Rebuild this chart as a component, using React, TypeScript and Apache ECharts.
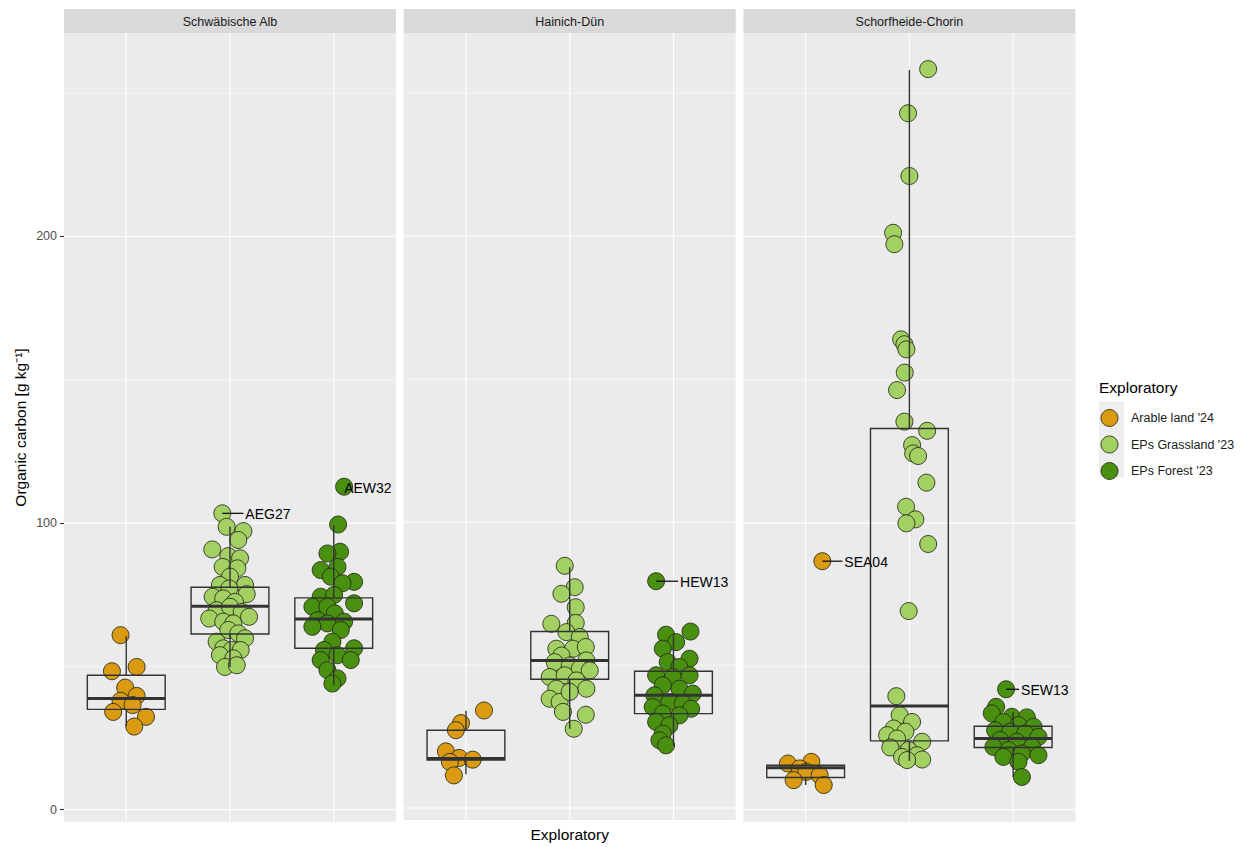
import React, { useEffect, useRef } from "react";
import * as echarts from "echarts";

// ---------- DATA ----------
const facetNames = ["Schwäbische Alb", "Hainich-Dün", "Schorfheide-Chorin"];
const groupNames = ["Arable land '24", "EPs Grassland '23", "EPs Forest '23"];
const groupColors = ["#DA9B12", "#A2D063", "#4A9010"];

const yMajorTicks = [0, 100, 200];
const yMinorTicks = [50, 150, 250];
const xCategoryPositions = [1, 2, 3];

// Schwäbische Alb
const albArableValues = [60.9, 48.3, 49.8, 42.6, 39.7, 38.0, 36.5, 34.1, 32.4, 29.0];
const albArableJitter = [-0.055, -0.138, 0.1, -0.01, 0.1, -0.055, 0.061, -0.126, 0.19, 0.077];
const albGrassValues = [103.4, 98.7, 97.2, 94.1, 90.8, 88.5, 87.7, 84.7, 84.2, 81.3, 78.4, 78.4, 77.2, 74.3, 75.2, 73.7, 72.5, 69.6, 70.8, 69.0, 67.3, 66.7, 65.6, 65.0, 62.7, 61.5, 58.6, 59.8, 56.3, 55.7, 55.7, 53.9, 52.8, 49.8, 50.4];
const albGrassJitter = [-0.074, -0.032, 0.129, 0.08, -0.171, -0.016, 0.097, -0.071, 0.071, 0, -0.097, 0.145, -0.007, -0.167, 0.161, -0.065, 0.048, -0.129, 0, 0.113, 0.184, -0.2, -0.065, 0.032, -0.016, 0.08, -0.129, 0.145, -0.065, 0.016, 0.103, -0.097, 0.032, -0.048, 0.065];
const albForestValues = [112.7, 99.5, 90.0, 89.4, 84.7, 83.6, 81.3, 79.5, 79.0, 74.3, 74.9, 72.0, 70.8, 70.8, 68.5, 66.1, 65.6, 65.0, 63.8, 62.7, 58.6, 56.3, 55.7, 53.9, 52.2, 52.2, 48.7, 45.8, 44.0];
const albForestJitter = [0.1, 0.042, 0.061, -0.061, 0.036, -0.126, -0.029, 0.196, 0.084, -0.126, 0.003, 0.196, -0.206, -0.061, 0.01, -0.157, 0.1, -0.061, -0.206, 0.068, -0.013, 0.196, -0.094, 0.036, -0.126, 0.164, -0.061, 0.036, -0.013];

// Hainich-Dün
const haiArableValues = [34.1, 29.7, 27.2, 19.8, 17.5, 16.9, 16.1, 11.4];
const haiArableJitter = [0.174, -0.048, -0.097, -0.193, -0.065, 0.065, -0.155, -0.116];
const haiGrassValues = [84.7, 77.2, 74.9, 70.2, 64.4, 64.7, 61.5, 59.8, 55.7, 55.7, 56.3, 53.3, 51.6, 51.0, 49.8, 48.7, 48.1, 45.8, 46.4, 44.6, 41.7, 41.7, 38.2, 37.1, 40.6, 33.6, 32.6, 27.7];
const haiGrassJitter = [-0.048, 0.048, -0.08, 0.058, -0.177, 0.058, -0.032, 0.097, -0.129, 0.032, 0.155, -0.08, 0.161, -0.145, 0, 0.097, 0.193, -0.193, -0.048, 0.065, -0.129, 0.161, -0.193, -0.097, 0, -0.065, 0.155, 0.039];
const haiForestValues = [79.3, 61.7, 60.6, 58.0, 55.7, 52.2, 51.0, 49.3, 46.4, 45.8, 46.4, 42.9, 41.7, 40.0, 39.4, 37.1, 36.5, 35.3, 34.7, 33.0, 32.4, 30.1, 28.9, 26.0, 23.7, 21.9];
const haiForestJitter = [-0.167, 0.164, -0.071, 0.026, -0.103, 0.155, -0.055, 0.058, -0.167, -0.007, 0.155, -0.103, 0.058, 0.186, -0.184, -0.039, 0.09, -0.2, 0.171, -0.103, 0.058, -0.167, -0.039, -0.103, -0.135, -0.071];

// Schorfheide-Chorin
const schArableValues = [86.7, 16.1, 16.7, 14.4, 13.2, 12.0, 10.3, 8.6];
const schArableJitter = [0.161, -0.171, 0.055, -0.058, 0.007, 0.135, -0.116, 0.174];
const schGrassValues = [258.4, 243.0, 221.1, 201.3, 197.3, 164.1, 162.4, 160.6, 152.5, 146.4, 135.4, 132.2, 127.2, 124.3, 123.4, 114.1, 105.7, 101.3, 99.9, 92.7, 69.3, 39.6, 33.0, 30.6, 28.3, 27.2, 26.0, 24.8, 23.7, 21.7, 20.8, 19.0, 18.4, 17.5, 17.3];
const schGrassJitter = [0.181, -0.013, 0, -0.157, -0.145, -0.08, -0.048, -0.029, -0.045, -0.119, -0.048, 0.171, 0.026, 0.036, 0.084, 0.164, -0.032, 0.058, -0.029, 0.181, -0.007, -0.126, -0.094, 0.026, -0.152, -0.039, -0.215, -0.119, 0.123, -0.184, -0.007, 0.074, -0.071, 0.123, -0.022];
const schForestValues = [42.0, 35.9, 33.6, 32.4, 32.2, 30.6, 29.5, 28.9, 27.7, 27.2, 26.6, 25.4, 24.3, 23.7, 21.9, 21.9, 20.8, 19.6, 19.0, 18.4, 16.7, 11.4];
const schForestJitter = [-0.068, -0.164, -0.206, -0.013, 0.132, -0.094, 0.051, 0.196, -0.174, -0.029, 0.116, 0.244, -0.126, 0.036, -0.19, 0.181, -0.045, 0.084, 0.244, -0.094, 0.051, 0.084];

// Box statistics [lower whisker, Q1, median, Q3, upper whisker]
const albBoxes = [
  [29.1, 35.0, 38.8, 46.9, 60.5],
  [49.8, 61.3, 71.0, 77.6, 98.7],
  [43.5, 56.3, 66.5, 73.9, 99.3],
];
const haiBoxes = [
  [11.8, 16.8, 17.3, 27.2, 34.0],
  [27.7, 45.0, 51.6, 61.7, 84.2],
  [21.9, 33.0, 39.4, 47.8, 60.9],
];
const schBoxes = [
  [8.6, 11.2, 14.6, 15.5, 16.7],
  [17.0, 24.0, 36.2, 133.0, 258.1],
  [11.4, 21.7, 24.8, 29.1, 34.1],
];

// Labelled outliers
const labelNames = ["AEG27", "AEW32", "HEW13", "SEA04", "SEW13"];
const labelFacets = [0, 0, 1, 2, 2];
const labelGroups = [1, 2, 2, 0, 2];
const labelValues = [103.4, 112.7, 79.3, 86.7, 42.0];
const labelJitter = [-0.074, 0.1, -0.167, 0.161, -0.068];

// ---------- STYLE / LAYOUT ----------
const labelNudgePx = [23, 0, 24, 22, 15];
const panelLefts = [64, 403.7, 743.4];
const panelWidth = 332;
const panelTop = 33.3;
const panelHeight = 788.4;
const yMin = -4.2;
const yMax = 270.9;
const FONT = "'Liberation Sans', Arial, sans-serif";
const BOX_STROKE = "#333333";

const facetData = [
  {
    values: [albArableValues, albGrassValues, albForestValues],
    jitter: [albArableJitter, albGrassJitter, albForestJitter],
    boxes: albBoxes,
  },
  {
    values: [haiArableValues, haiGrassValues, haiForestValues],
    jitter: [haiArableJitter, haiGrassJitter, haiForestJitter],
    boxes: haiBoxes,
  },
  {
    values: [schArableValues, schGrassValues, schForestValues],
    jitter: [schArableJitter, schGrassJitter, schForestJitter],
    boxes: schBoxes,
  },
];

function buildOption() {
  const grids: any[] = [];
  const xAxes: any[] = [];
  const yAxes: any[] = [];
  const series: any[] = [];
  const graphics: any[] = [];

  facetNames.forEach((name, f) => {
    grids.push({
      left: panelLefts[f],
      top: panelTop,
      width: panelWidth,
      height: panelHeight,
      show: true,
      backgroundColor: "#EBEBEB",
      borderWidth: 0,
    });
    xAxes.push({
      type: "value",
      gridIndex: f,
      min: 0.4,
      max: 3.6,
      show: true,
      axisLine: { show: false },
      axisTick: { show: false },
      axisLabel: { show: false },
      splitLine: { show: false },
      name: f === 1 ? "Exploratory" : "",
      nameLocation: "middle",
      nameGap: 6,
      nameTextStyle: { fontSize: 15.5, color: "#000", fontFamily: FONT, verticalAlign: "top" },
    });
    yAxes.push({
      type: "value",
      gridIndex: f,
      min: yMin,
      max: yMax,
      show: true,
      axisLine: { show: false },
      splitLine: { show: false },
      axisTick: {
        show: f === 0,
        customValues: yMajorTicks,
        length: 4,
        lineStyle: { color: "#333333", width: 1.1 },
      },
      axisLabel: {
        show: f === 0,
        customValues: yMajorTicks,
        color: "#4D4D4D",
        fontSize: 12.5,
        margin: 7,
        fontFamily: FONT,
      },
      name: f === 0 ? "Organic carbon [g kg\u207B\u00B9]" : "",
      nameLocation: "middle",
      nameGap: 36,
      nameTextStyle: { fontSize: 15.5, color: "#000", fontFamily: FONT },
    });

    // grid lines
    const gridLineData: any[] = [];
    yMinorTicks.forEach((v) => gridLineData.push([0, v, 0]));
    yMajorTicks.forEach((v) => gridLineData.push([0, v, 1]));
    xCategoryPositions.forEach((v) => gridLineData.push([1, v, 1]));
    series.push({
      type: "custom",
      name: "gridlines-" + f,
      xAxisIndex: f,
      yAxisIndex: f,
      silent: true,
      z: 1,
      data: gridLineData,
      encode: { x: 1, y: 1 },
      renderItem: (params: any, api: any) => {
        const cs = params.coordSys;
        const kind = api.value(0);
        const v = api.value(1);
        const major = api.value(2) === 1;
        const lw = major ? 1.1 : 0.55;
        if (kind === 0) {
          const y = api.coord([1, v])[1];
          return {
            type: "line",
            shape: { x1: cs.x, y1: y, x2: cs.x + cs.width, y2: y },
            style: { stroke: "#FFFFFF", lineWidth: lw },
          };
        }
        const x = api.coord([v, 0])[0];
        return {
          type: "line",
          shape: { x1: x, y1: cs.y, x2: x, y2: cs.y + cs.height },
          style: { stroke: "#FFFFFF", lineWidth: lw },
        };
      },
    });

    // jittered points
    const fd = facetData[f];
    groupNames.forEach((g, gi) => {
      series.push({
        type: "scatter",
        name: g,
        xAxisIndex: f,
        yAxisIndex: f,
        symbol: "circle",
        symbolSize: 17,
        z: 2,
        itemStyle: {
          color: groupColors[gi],
          borderColor: "rgba(35,40,20,0.85)",
          borderWidth: 1,
          opacity: 1,
        },
        emphasis: { disabled: true },
        data: fd.values[gi].map((v, i) => [xCategoryPositions[gi] + fd.jitter[gi][i], v]),
      });
    });

    // boxplots
    series.push({
      type: "custom",
      name: "box-" + f,
      xAxisIndex: f,
      yAxisIndex: f,
      silent: true,
      z: 3,
      data: fd.boxes.map((b, gi) => [xCategoryPositions[gi], ...b]),
      encode: { x: 0, y: [1, 2, 3, 4, 5] },
      renderItem: (params: any, api: any) => {
        const x = api.value(0);
        const lo = api.value(1);
        const q1 = api.value(2);
        const med = api.value(3);
        const q3 = api.value(4);
        const hi = api.value(5);
        const w = api.size([0.75, 0])[0];
        const pHi = api.coord([x, hi]);
        const pQ3 = api.coord([x, q3]);
        const pMed = api.coord([x, med]);
        const pQ1 = api.coord([x, q1]);
        const pLo = api.coord([x, lo]);
        const stroke = BOX_STROKE;
        return {
          type: "group",
          children: [
            { type: "line", shape: { x1: pHi[0], y1: pHi[1], x2: pQ3[0], y2: pQ3[1] }, style: { stroke, lineWidth: 1.4 } },
            { type: "line", shape: { x1: pQ1[0], y1: pQ1[1], x2: pLo[0], y2: pLo[1] }, style: { stroke, lineWidth: 1.4 } },
            {
              type: "rect",
              shape: { x: pQ3[0] - w / 2, y: pQ3[1], width: w, height: pQ1[1] - pQ3[1] },
              style: { fill: "none", stroke, lineWidth: 1.4 },
            },
            {
              type: "line",
              shape: { x1: pMed[0] - w / 2, y1: pMed[1], x2: pMed[0] + w / 2, y2: pMed[1] },
              style: { stroke, lineWidth: 3 },
            },
          ],
        };
      },
    });

    // labels
    const idx = labelNames.map((_, i) => i).filter((i) => labelFacets[i] === f);
    series.push({
      type: "custom",
      name: "labels-" + f,
      xAxisIndex: f,
      yAxisIndex: f,
      silent: true,
      z: 4,
      data: idx.map((i) => [xCategoryPositions[labelGroups[i]] + labelJitter[i], labelValues[i], labelNudgePx[i], i]),
      encode: { x: 0, y: 1 },
      renderItem: (params: any, api: any) => {
        const p = api.coord([api.value(0), api.value(1)]);
        const nudge = api.value(2);
        const i = api.value(3);
        const children: any[] = [];
        if (nudge > 4) {
          children.push({
            type: "line",
            shape: { x1: p[0], y1: p[1], x2: p[0] + nudge - 2, y2: p[1] },
            style: { stroke: "#000", lineWidth: 1.2 },
          });
        }
        children.push({
          type: "text",
          style: {
            text: labelNames[i],
            x: p[0] + nudge,
            y: p[1] + 1,
            align: "left",
            verticalAlign: "middle",
            fill: "#000",
            fontSize: 14,
            fontFamily: FONT,
          },
        });
        return { type: "group", children };
      },
    });

    // strips
    graphics.push({
      type: "rect",
      shape: { x: panelLefts[f], y: 9, width: panelWidth, height: panelTop - 9 },
      style: { fill: "#D9D9D9" },
      z: 0,
      silent: true,
    });
    graphics.push({
      type: "text",
      x: panelLefts[f] + panelWidth / 2,
      y: 21.5,
      style: {
        text: name,
        align: "center",
        verticalAlign: "middle",
        fill: "#1A1A1A",
        fontSize: 12.5,
        fontFamily: FONT,
      },
      z: 10,
      silent: true,
    });
  });

  // legend title and key background
  graphics.push({
    type: "text",
    x: 1099,
    y: 387,
    style: {
      text: "Exploratory",
      align: "left",
      verticalAlign: "middle",
      fill: "#000",
      fontSize: 15.5,
      fontFamily: FONT,
    },
    z: 10,
    silent: true,
  });
  graphics.push({
    type: "rect",
    shape: { x: 1099, y: 401.5, width: 25, height: 76 },
    style: { fill: "#EEEEEE" },
    z: 0,
    silent: true,
  });

  return {
    animation: false,
    backgroundColor: "#FFFFFF",
    textStyle: { fontFamily: FONT },
    grid: grids,
    xAxis: xAxes,
    yAxis: yAxes,
    legend: {
      data: groupNames,
      orient: "vertical",
      left: 1095.5,
      top: 404,
      itemWidth: 33,
      itemHeight: 17,
      itemGap: 8.5,
      icon: "circle",
      selectedMode: false,
      itemStyle: { borderWidth: 1, borderColor: "rgba(35,40,20,0.85)" },
      textStyle: { fontSize: 12.5, color: "#1A1A1A", fontFamily: FONT },
    },
    graphic: graphics,
    series,
  };
}

export default function App() {
  const ref = useRef<HTMLDivElement | null>(null);
  useEffect(() => {
    if (!ref.current) return;
    const chart = echarts.init(ref.current, undefined, { renderer: "svg" });
    chart.setOption(buildOption() as any);
    return () => chart.dispose();
  }, []);
  return (
    <div
      ref={ref}
      style={{ position: "absolute", left: 0, top: 0, width: 1251, height: 847 }}
    />
  );
}
